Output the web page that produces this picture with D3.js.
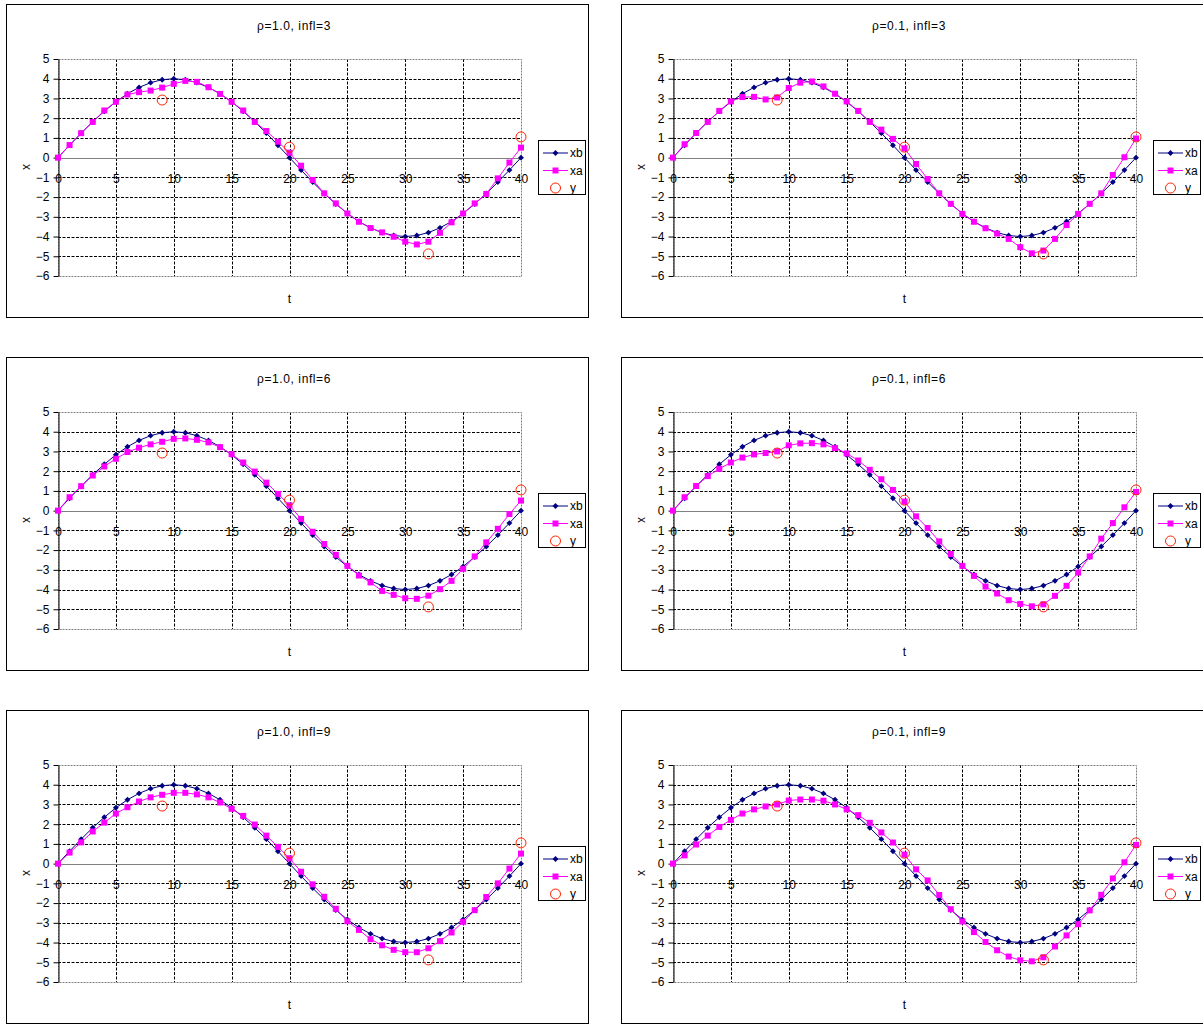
<!DOCTYPE html>
<html>
<head>
<meta charset="utf-8">
<script src="https://cdn.jsdelivr.net/npm/d3@7"></script>
<style>
  body { margin: 0; background: #fff; }
  text { font-family: "Liberation Sans", Arial, sans-serif; fill: #000; }
</style>
</head>
<body>
<svg width="1203" height="1024"></svg>
<script>
const width = 1203;
const height = 1024;

// time steps
const tValues = [0, 1, 2, 3, 4, 5, 6, 7, 8, 9, 10, 11, 12, 13, 14, 15, 16, 17, 18, 19, 20,
    21, 22, 23, 24, 25, 26, 27, 28, 29, 30, 31, 32, 33, 34, 35, 36, 37, 38, 39, 40];

// background (same in every panel)
const xbValues = [0, 0.63, 1.24, 1.82, 2.35, 2.83, 3.24, 3.56, 3.80, 3.95, 4.00, 3.95, 3.80, 3.56, 3.24, 2.83,
    2.35, 1.82, 1.24, 0.63, 0, -0.63, -1.24, -1.82, -2.35, -2.83, -3.24, -3.56, -3.80, -3.95, -4.00,
    -3.95, -3.80, -3.56, -3.24, -2.83, -2.35, -1.82, -1.24, -0.63, 0];

// observations
const obsT = [9, 20, 32, 40];
const obsValues = [2.92, 0.53, -4.88, 1.05];

// analysis per panel
const xaRho10Infl3 = [0, 0.64, 1.24, 1.81, 2.39, 2.83, 3.2, 3.32, 3.4, 3.55, 3.74, 3.89, 3.84, 3.57, 3.23, 2.83,
    2.39, 1.81, 1.35, 0.81, 0.25, -0.41, -1.13, -1.81, -2.32, -2.83, -3.25, -3.57, -3.79, -4.01, -4.26,
    -4.4, -4.26, -3.81, -3.28, -2.83, -2.32, -1.84, -1.05, -0.25, 0.51];
const xaRho01Infl3 = [0, 0.68, 1.25, 1.81, 2.37, 2.85, 3.07, 3.08, 2.95, 3.05, 3.53, 3.8, 3.86, 3.61, 3.24, 2.85,
    2.37, 1.81, 1.42, 0.95, 0.47, -0.32, -1.08, -1.81, -2.34, -2.85, -3.25, -3.58, -3.85, -4.12, -4.54,
    -4.85, -4.71, -4.12, -3.42, -2.85, -2.34, -1.81, -0.88, 0.02, 0.97];
const xaRho10Infl6 = [0, 0.68, 1.24, 1.78, 2.24, 2.63, 2.97, 3.19, 3.36, 3.49, 3.64, 3.66, 3.59, 3.46, 3.22, 2.86,
    2.44, 1.98, 1.42, 0.85, 0.27, -0.42, -1.07, -1.69, -2.24, -2.8, -3.29, -3.64, -4.07, -4.27, -4.44,
    -4.47, -4.31, -3.98, -3.56, -2.95, -2.32, -1.61, -0.92, -0.17, 0.51];
const xaRho01Infl6 = [0, 0.68, 1.25, 1.75, 2.12, 2.44, 2.69, 2.85, 2.92, 3.0, 3.31, 3.41, 3.42, 3.36, 3.17, 2.9,
    2.54, 2.07, 1.59, 1.05, 0.46, -0.29, -0.88, -1.56, -2.2, -2.8, -3.31, -3.85, -4.2, -4.54, -4.73,
    -4.85, -4.75, -4.32, -3.81, -3.14, -2.32, -1.42, -0.63, 0.17, 0.95];
const xaRho10Infl9 = [0, 0.56, 1.08, 1.63, 2.08, 2.54, 2.86, 3.15, 3.36, 3.49, 3.59, 3.59, 3.51, 3.36, 3.1, 2.78,
    2.42, 1.98, 1.42, 0.85, 0.27, -0.41, -1.05, -1.68, -2.29, -2.92, -3.36, -3.83, -4.14, -4.37, -4.49,
    -4.49, -4.29, -3.93, -3.49, -2.95, -2.36, -1.69, -1.0, -0.25, 0.51];
const xaRho01Infl9 = [0, 0.42, 0.97, 1.42, 1.86, 2.22, 2.54, 2.75, 2.9, 3.0, 3.2, 3.25, 3.25, 3.19, 3.0, 2.75,
    2.46, 2.07, 1.58, 1.07, 0.46, -0.29, -0.85, -1.59, -2.31, -2.93, -3.47, -3.97, -4.39, -4.71, -4.9,
    -4.95, -4.75, -4.2, -3.64, -3.07, -2.37, -1.58, -0.75, 0.07, 0.95];

const panelTitles = ["ρ=1.0, infl=3", "ρ=0.1, infl=3", "ρ=1.0, infl=6", "ρ=0.1, infl=6", "ρ=1.0, infl=9", "ρ=0.1, infl=9"];
const xaSeries = [xaRho10Infl3, xaRho01Infl3, xaRho10Infl6, xaRho01Infl6, xaRho10Infl9, xaRho01Infl9];

const xTicks = [0, 5, 10, 15, 20, 25, 30, 35, 40];
const yTicks = [5, 4, 3, 2, 1, 0, -1, -2, -3, -4, -5, -6];
const legendNames = ["xb", "xa", "y"];

const navy = "#000080";
const magenta = "#ff00ff";
const red = "#ff2000";

// panel geometry
const boxW = 582;
const boxH = 313;
const plot = { left: 52, right: 515, top: 55, bottom: 272 };

const svg = d3.select("svg");

const x = d3.scaleLinear().domain([0, 40]).range([plot.left, plot.right]);
const y = d3.scaleLinear().domain([-6, 5]).range([plot.bottom, plot.top]);

const line = d3.line()
    .x((d) => x(d[0]))
    .y((d) => y(d[1]));

panelTitles.forEach((title, i) => {
    const col = i % 2;
    const row = Math.floor(i / 2);
    const g = svg.append("g")
        .attr("transform", `translate(${6 + col * 615}, ${4 + row * 353})`);

    // outer chart border
    g.append("rect")
        .attr("x", 0.5).attr("y", 0.5)
        .attr("width", boxW).attr("height", boxH)
        .attr("fill", "#fff")
        .attr("stroke", "#000")
        .attr("stroke-width", 1);

    // horizontal gridlines
    g.selectAll(".hgrid")
        .data(yTicks.filter((v) => v !== 0 && v !== -6 && v !== 5))
        .join("line")
        .attr("x1", plot.left).attr("x2", plot.right)
        .attr("y1", (d) => Math.round(y(d)) + 0.5)
        .attr("y2", (d) => Math.round(y(d)) + 0.5)
        .attr("stroke", "#000")
        .attr("stroke-dasharray", "3,1.5");

    // vertical gridlines
    g.selectAll(".vgrid")
        .data(xTicks.filter((v) => v !== 0 && v !== 40))
        .join("line")
        .attr("x1", (d) => Math.round(x(d)) + 0.5)
        .attr("x2", (d) => Math.round(x(d)) + 0.5)
        .attr("y1", plot.top).attr("y2", plot.bottom)
        .attr("stroke", "#000")
        .attr("stroke-dasharray", "3,1.5");

    // plot area border (dotted gray)
    g.append("rect")
        .attr("x", plot.left + 0.5).attr("y", plot.top + 0.5)
        .attr("width", plot.right - plot.left).attr("height", plot.bottom - plot.top)
        .attr("fill", "none")
        .attr("stroke", "#808080")
        .attr("stroke-dasharray", "2,1");

    // zero line
    g.append("line")
        .attr("x1", plot.left).attr("x2", plot.right)
        .attr("y1", Math.round(y(0)) + 0.5).attr("y2", Math.round(y(0)) + 0.5)
        .attr("stroke", "#808080");

    // y axis
    const yAxisG = g.append("g")
        .attr("transform", `translate(${plot.left + 0.5},0)`)
        .call(d3.axisLeft(y).tickValues(yTicks).tickSizeInner(5).tickSizeOuter(0).tickPadding(4));
    yAxisG.select(".domain").attr("stroke", "#000");
    yAxisG.selectAll("text").style("font-size", "12px").attr("font-family", null);

    // x axis labels at zero line
    const xAxisG = g.append("g")
        .attr("transform", `translate(0,${Math.round(y(0)) + 0.5})`)
        .call(d3.axisBottom(x).tickValues(xTicks).tickSize(0).tickPadding(15.5));
    xAxisG.select(".domain").remove();
    xAxisG.selectAll("text").style("font-size", "12px").attr("font-family", null);

    // xb
    const xbPts = tValues.map((t, k) => [t, xbValues[k]]);
    g.append("path")
        .attr("d", line(xbPts))
        .attr("fill", "none")
        .attr("stroke", navy)
        .attr("stroke-width", 1);
    g.selectAll(".xb")
        .data(xbPts)
        .join("path")
        .attr("transform", (d) => `translate(${x(d[0])},${y(d[1])})`)
        .attr("d", d3.symbol(d3.symbolDiamond2, 22))
        .attr("fill", navy);

    // xa
    const xaPts = tValues.map((t, k) => [t, xaSeries[i][k]]);
    g.append("path")
        .attr("d", line(xaPts))
        .attr("fill", "none")
        .attr("stroke", magenta)
        .attr("stroke-width", 1);
    g.selectAll(".xa")
        .data(xaPts)
        .join("rect")
        .attr("x", (d) => x(d[0]) - 3)
        .attr("y", (d) => y(d[1]) - 3)
        .attr("width", 6).attr("height", 6)
        .attr("fill", magenta);

    // observations
    g.selectAll(".obs")
        .data(obsT.map((t, k) => [t, obsValues[k]]))
        .join("circle")
        .attr("cx", (d) => x(d[0]))
        .attr("cy", (d) => y(d[1]))
        .attr("r", 5)
        .attr("fill", "none")
        .attr("stroke", red)
        .attr("stroke-width", 1);

    // title + axis labels
    g.append("text")
        .attr("x", 288).attr("y", 26)
        .attr("text-anchor", "middle")
        .style("font-size", "12px")
        .style("letter-spacing", "0.6px")
        .text(title);
    g.append("text")
        .attr("x", (plot.left + plot.right) / 2).attr("y", 299)
        .attr("text-anchor", "middle")
        .style("font-size", "12px")
        .text("t");
    g.append("text")
        .attr("transform", "translate(24,163) rotate(-90)")
        .attr("text-anchor", "middle")
        .style("font-size", "12px")
        .text("x");

    // legend
    const lg = g.append("g").attr("transform", "translate(532,136)");
    lg.append("rect")
        .attr("x", 0.5).attr("y", 0.5)
        .attr("width", 47).attr("height", 54)
        .attr("fill", "#fff")
        .attr("stroke", "#000");
    legendNames.forEach((name, k) => {
        const ly = 13 + k * 17.5;
        if (k < 2) {
            const c = k === 0 ? navy : magenta;
            lg.append("line")
                .attr("x1", 5).attr("x2", 30)
                .attr("y1", ly).attr("y2", ly)
                .attr("stroke", c);
            if (k === 0) {
                lg.append("path")
                    .attr("transform", `translate(17.5,${ly})`)
                    .attr("d", d3.symbol(d3.symbolDiamond2, 22))
                    .attr("fill", c);
            } else {
                lg.append("rect")
                    .attr("x", 14.5).attr("y", ly - 3)
                    .attr("width", 6).attr("height", 6)
                    .attr("fill", c);
            }
        } else {
            lg.append("circle")
                .attr("cx", 17.5).attr("cy", ly)
                .attr("r", 5)
                .attr("fill", "none")
                .attr("stroke", red);
        }
        lg.append("text")
            .attr("x", 32).attr("y", ly + 4)
            .style("font-size", "12px")
            .text(name);
    });
});
</script>
</body>
</html>
